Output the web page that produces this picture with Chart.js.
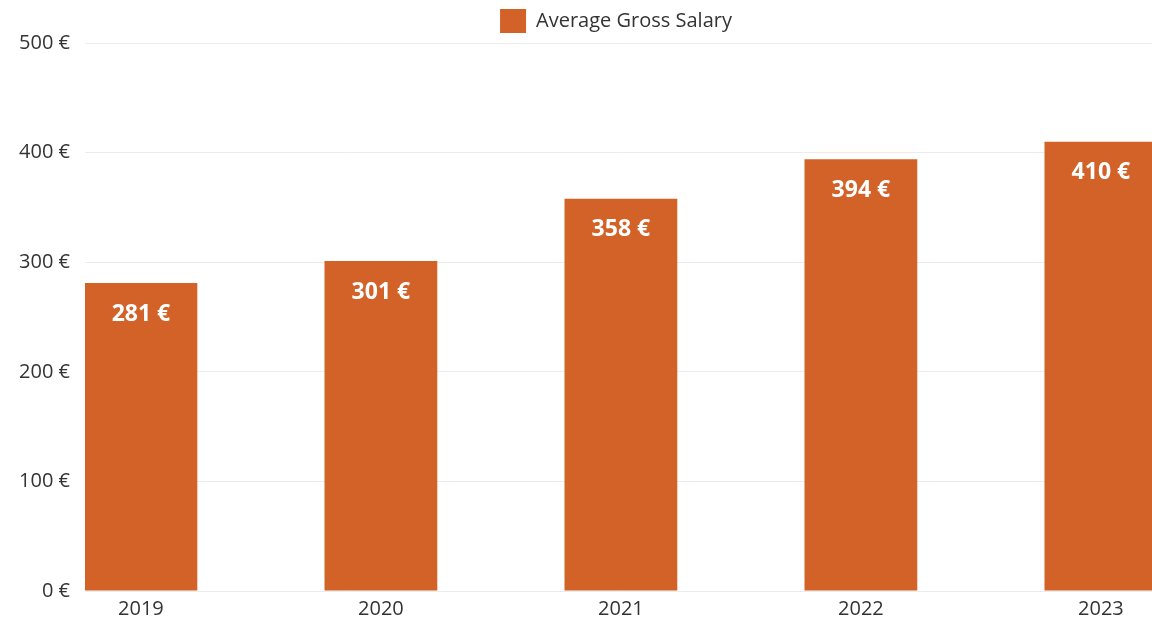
<!DOCTYPE html>
<html>
<head>
<meta charset="utf-8">
<script src="https://cdn.jsdelivr.net/npm/chart.js@4"></script>
<style>
  html, body { margin: 0; padding: 0; background: #fff; overflow: hidden; }
  #wrap { width: 1152px; height: 622px; }
</style>
</head>
<body>
<div id="wrap"><canvas id="salary-chart"></canvas></div>
<script>
// --- Data ---
const years = [2019, 2020, 2021, 2022, 2023];
const avgGrossSalary = [281, 301, 358, 394, 410];
const yTicks = [0, 100, 200, 300, 400, 500];

const BAR_COLOR = '#d26227';
const TEXT_COLOR = '#333333';
const FONT = "'Open Sans', 'Noto Sans', sans-serif";

// Value labels drawn inside the top of each bar
const barValueLabels = {
  id: 'barValueLabels',
  afterDatasetsDraw(chart) {
    const { ctx } = chart;
    const meta = chart.getDatasetMeta(0);
    ctx.save();
    ctx.font = `bold 23px ${FONT}`;
    ctx.fillStyle = '#ffffff';
    ctx.textAlign = 'center';
    ctx.textBaseline = 'middle';
    meta.data.forEach((bar, i) => {
      ctx.fillText(`${avgGrossSalary[i]} €`, bar.x, bar.y + 31);
    });
    ctx.restore();
  }
};

// Legend sits a bit right of the canvas centre
const legendShift = {
  id: 'legendShift',
  afterLayout(chart) {
    const lg = chart.legend;
    if (!lg) return;
    lg.left += 40;
    lg.right += 40;
  }
};

const ctx = document.getElementById('salary-chart').getContext('2d');
new Chart(ctx, {
  type: 'bar',
  data: {
    datasets: [{
      label: 'Average Gross Salary',
      data: years.map((y, i) => ({ x: y, y: avgGrossSalary[i] })),
      backgroundColor: BAR_COLOR,
      borderWidth: 0,
      barPercentage: 0.47,
      categoryPercentage: 1
    }]
  },
  options: {
    responsive: true,
    maintainAspectRatio: false,
    animation: false,
    layout: { padding: 0 },
    plugins: {
      legend: {
        labels: {
          boxWidth: 26,
          boxHeight: 24,
          padding: 9,
          color: TEXT_COLOR,
          font: { size: 20, family: FONT }
        }
      },
      tooltip: { enabled: false }
    },
    scales: {
      x: {
        type: 'linear',
        offset: false,
        min: 2018.767,
        max: 2023.213,
        afterFit(scale) { scale.height = 31; },
        grid: { display: false, drawTicks: false },
        border: { display: false },
        ticks: {
          stepSize: 1,
          includeBounds: false,
          color: TEXT_COLOR,
          padding: 6,
          font: { size: 20, family: FONT, lineHeight: 1.2 },
          callback: v => String(v)
        }
      },
      y: {
        min: 0,
        max: 500,
        afterFit(scale) { scale.width = 85; },
        afterBuildTicks(scale) { scale.ticks = yTicks.map(v => ({ value: v })); },
        grid: { color: '#ececec', drawTicks: false },
        border: { display: false },
        ticks: {
          color: TEXT_COLOR,
          padding: 15,
          font: { size: 20, family: FONT },
          callback: v => `${v} €`
        }
      }
    }
  },
  plugins: [barValueLabels, legendShift]
});
</script>
</body>
</html>
